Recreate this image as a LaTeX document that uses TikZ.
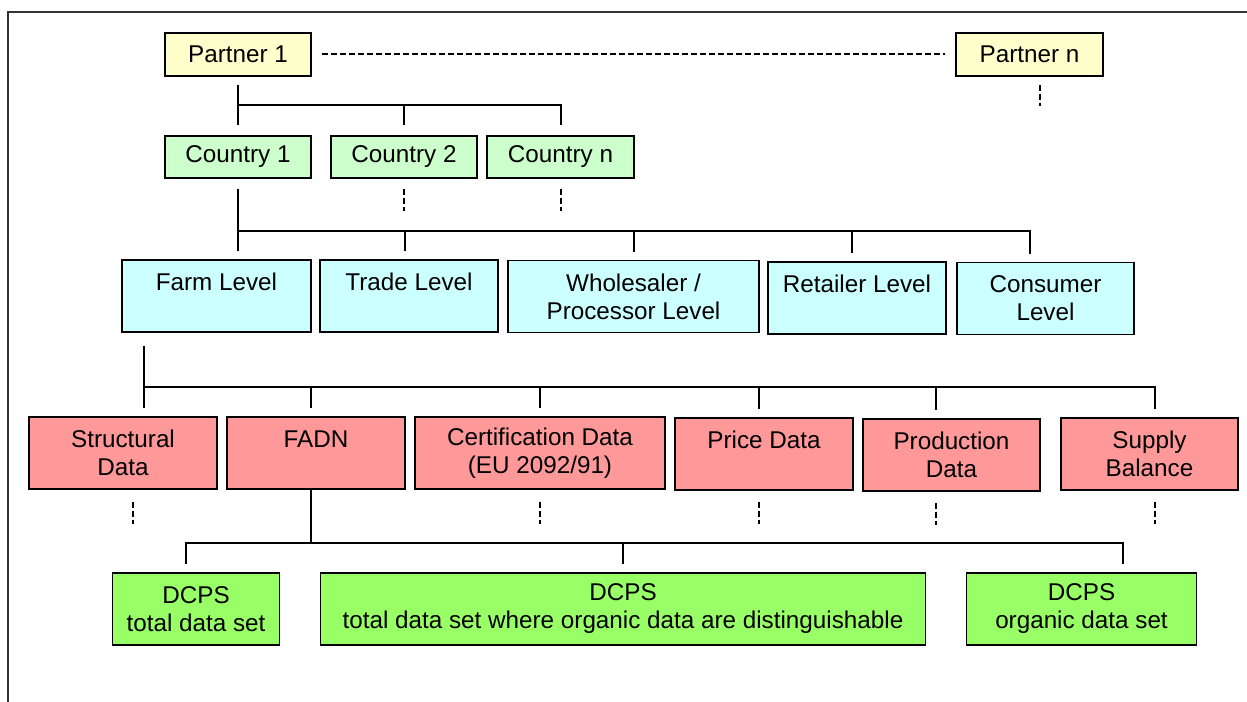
\documentclass[tikz,border=0pt]{standalone}
\usepackage{fontspec}
\setmainfont{Liberation Sans}
\definecolor{partnerfill}{HTML}{FFFFCC}
\definecolor{countryfill}{HTML}{CCFFCC}
\definecolor{levelfill}{HTML}{CCFFFF}
\definecolor{datafill}{HTML}{FF9999}
\definecolor{dcpsfill}{HTML}{99FF66}
\newcommand{\px}{0.02cm}

\begin{document}
\begin{tikzpicture}[x=\px, y=-\px,
    box/.style={draw, line width=1.5*\px, rectangle, align=center, inner sep=0pt, font=\fontsize{13.8}{15.9}\selectfont},
    partner/.style={box, fill=partnerfill, minimum width=146*\px, minimum height=43*\px},
    country/.style={box, fill=countryfill, minimum width=146*\px, minimum height=42*\px},
    level/.style={box, fill=levelfill, minimum height=72*\px},
    data/.style={box, fill=datafill, minimum height=72*\px},
    dcps/.style={box, fill=dcpsfill, minimum height=72*\px},
    tie/.style={line width=2*\px, shorten >=8*\px},
    more/.style={line width=2*\px, dash pattern=on 0.12cm off 0.06cm}]
    \useasboundingbox (0,0) rectangle (1247,702);
    \draw[line width=1.5*\px, black!80] (8,702) -- (8,12) -- (1247,12);

    % Partners
    \node[partner] (p1) at (238,54.5) {Partner 1};
    \node[partner, minimum width=147*\px] (pn) at (1029.5,54.5) {Partner n};

    % Countries
    \node[country] (c1) at (238,157) {Country 1};
    \node[country] (c2) at (404,157) {Country 2};
    \node[country, minimum width=147*\px] (cn) at (560.5,157) {Country n};

    % Levels
    \node[level, minimum width=189*\px] (farm) at (216.5,296) {Farm Level\\\phantom{L}};
    \node[level, minimum width=178*\px] (trade) at (409,296) {Trade Level\\\phantom{L}};
    \node[level, minimum width=251*\px] (whole) at (633.5,296.5) {Wholesaler /\\Processor Level};
    \node[level, minimum width=178*\px] (retail) at (857,298) {Retailer Level\\\phantom{L}};
    \node[level, minimum width=177*\px] (cons) at (1045.5,298.5) {Consumer\\Level};

    % Data sources
    \node[data, minimum width=188*\px] (struct) at (123,453) {Structural\\Data};
    \node[data, minimum width=178*\px] (fadn) at (316,453) {FADN\\\phantom{L}};
    \node[data, minimum width=250*\px] (cert) at (540,453) {Certification Data\\(EU 2092/91)};
    \node[data, minimum width=178*\px] (price) at (764,454) {Price Data\\\phantom{L}};
    \node[data, minimum width=177*\px] (prod) at (951.5,455) {Production\\Data};
    \node[data, minimum width=177*\px] (supply) at (1149.5,454) {Supply\\Balance};

    % DCPS
    \node[dcps, minimum width=167*\px] (dtot) at (196,609) {DCPS\\total data set};
    \node[dcps, minimum width=605*\px] (dmix) at (623,609) {DCPS\\total data set where organic data are distinguishable};
    \node[dcps, minimum width=230*\px] (dorg) at (1081.5,609) {DCPS\\organic data set};

    % Partner 1 to countries
    \coordinate (pbus) at (238,105);
    \draw[tie, shorten <=8*\px, shorten >=10*\px] (p1) -- (c1);
    \draw[tie, shorten >=10*\px] (pbus) -| (c2.north);
    \draw[tie, shorten >=10*\px] (pbus) -| (cn.north);
    \draw[more, shorten <=10*\px, shorten >=10*\px] (p1) -- (pn);
    \draw[more] ([xshift=10.5*\px]pn.south) ++(0,8) -- ++(0,21);

    % Country 1 to levels
    \coordinate (cbus) at (238,231);
    \draw[tie, shorten <=10*\px] (c1.south) -- (c1.south |- farm.north);
    \draw[tie] (cbus) -| ([xshift=-4*\px]trade.north);
    \draw[tie] (cbus) -| (whole.north);
    \draw[tie] (cbus) -| ([xshift=-5*\px]retail.north);
    \draw[tie] (cbus) -| ([xshift=-15.5*\px]cons.north);
    \draw[more] (c2.south) ++(0,10) -- ++(0,22);
    \draw[more] (cn.south) ++(0,10) -- ++(0,22);

    % Farm level to data sources
    \coordinate (fbus) at (144,387);
    \draw[tie, shorten <=13*\px] ([xshift=-72.5*\px]farm.south) -- ([xshift=21*\px]struct.north);
    \draw[tie] (fbus) -| ([xshift=-5*\px]fadn.north);
    \draw[tie] (fbus) -| (cert.north);
    \draw[tie] (fbus) -| ([xshift=-5*\px]price.north);
    \draw[tie] (fbus) -| ([xshift=-16*\px]prod.north);
    \draw[tie] (fbus) -| ([xshift=5.5*\px]supply.north);
    \draw[more] ([xshift=10*\px]struct.south) ++(0,12) -- ++(0,22);
    \draw[more] (cert.south) ++(0,12) -- ++(0,22);
    \draw[more] ([xshift=-5*\px]price.south) ++(0,11) -- ++(0,22);
    \draw[more] ([xshift=-16*\px]prod.south) ++(0,11) -- ++(0,22);
    \draw[more] ([xshift=5.5*\px]supply.south) ++(0,11) -- ++(0,22);

    % FADN to DCPS
    \coordinate (dbus) at (311,543);
    \draw[tie, shorten >=0pt] ([xshift=-5*\px]fadn.south) -- (dbus);
    \draw[tie] (dbus) -| ([xshift=-10*\px]dtot.north);
    \draw[tie] (dbus) -| (dmix.north);
    \draw[tie] (dbus) -| ([xshift=41.5*\px]dorg.north);

\end{tikzpicture}
\end{document}
